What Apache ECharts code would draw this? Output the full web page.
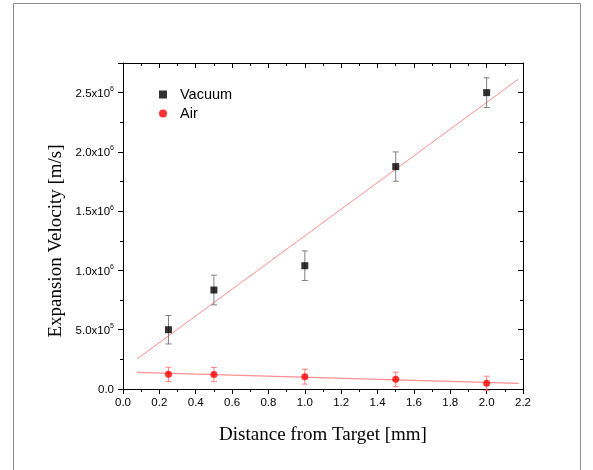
<!DOCTYPE html>
<html>
<head>
<meta charset="utf-8">
<script src="https://cdn.jsdelivr.net/npm/echarts@6/dist/echarts.min.js"></script>
<style>
  html, body { margin: 0; padding: 0; background: #fff; }
  #chart { width: 593px; height: 470px; }
</style>
</head>
<body>
<div id="chart"></div>
<script>
// Expansion velocity of the plume versus distance from the target
const distance = [0.25, 0.5, 1.0, 1.5, 2.0];            // mm
const vacuumVelocity = [5.0e5, 8.35e5, 1.04e6, 1.876e6, 2.5e6]; // m/s
const vacuumError = [1.2e5, 1.25e5, 1.25e5, 1.24e5, 1.25e5];
const airVelocity = [1.24e5, 1.22e5, 1.04e5, 8.2e4, 4.8e4];
const airError = [6.0e4, 6.0e4, 6.3e4, 6.0e4, 6.0e4];

// Linear fit end points
const vacuumFitX = [0.077, 2.174];
const vacuumFitY = [2.53e5, 2.613e6];
const airFitX = [0.077, 2.176];
const airFitY = [1.41e5, 4.8e4];

const xTicks = { min: 0, max: 2.2, step: 0.2 };
const yTicks = { min: 0, max: 2.75e6, step: 5e5 };

const SANS = '"Liberation Sans", Arial, sans-serif';
const SERIF = '"Liberation Serif", "Times New Roman", serif';

function pairs(xs, ys) { return xs.map((x, i) => [x, ys[i]]); }
function triples(xs, ys, es) { return xs.map((x, i) => [x, ys[i], es[i]]); }

function errorBars(color) {
  return function (params, api) {
    const x = api.value(0), y = api.value(1), e = api.value(2);
    const hi = api.coord([x, y + e]);
    const lo = api.coord([x, y - e]);
    const half = 3;
    const style = { stroke: color, lineWidth: 1 };
    return {
      type: 'group',
      children: [
        { type: 'line', shape: { x1: hi[0], y1: hi[1], x2: lo[0], y2: lo[1] }, style },
        { type: 'line', shape: { x1: hi[0] - half, y1: hi[1], x2: hi[0] + half, y2: hi[1] }, style },
        { type: 'line', shape: { x1: lo[0] - half, y1: lo[1], x2: lo[0] + half, y2: lo[1] }, style }
      ]
    };
  };
}

function yLabel(v) {
  if (v === 0) return '{m|0.0}';
  const e = Math.floor(Math.log10(v) + 1e-9);
  const m = (v / Math.pow(10, e)).toFixed(1);
  return '{m|' + m + 'x10}{e|' + e + '}';
}

const axisLine = { show: true, onZero: false, lineStyle: { color: '#000', width: 1 } };

const chart = echarts.init(document.getElementById('chart'));
chart.setOption({
  animation: false,
  backgroundColor: '#fff',
  grid: { left: 123, right: 70, top: 63, bottom: 81, containLabel: false },
  legend: {
    orient: 'vertical',
    left: 154,
    top: 82,
    itemWidth: 8,
    itemHeight: 8,
    itemGap: 4,
    data: [
      { name: 'Vacuum', icon: 'rect' },
      { name: 'Air', icon: 'circle' }
    ],
    textStyle: { fontFamily: SANS, fontSize: 14.5, color: '#000', padding: [0, 0, 0, 8] }
  },
  xAxis: [
    {
      type: 'value', position: 'bottom',
      min: xTicks.min, max: xTicks.max, interval: xTicks.step,
      axisLine,
      axisTick: { show: true, inside: false, length: 5, lineStyle: { color: '#000' } },
      minorTick: { show: true, splitNumber: 2, length: 3, lineStyle: { color: '#000' } },
      splitLine: { show: false },
      axisLabel: { color: '#000', fontFamily: SANS, fontSize: 11.5, margin: 8,
        formatter: v => v.toFixed(1) }
    },
    {
      type: 'value', position: 'top',
      min: xTicks.min, max: xTicks.max, interval: xTicks.step,
      axisLine,
      axisTick: { show: true, inside: true, length: 5, lineStyle: { color: '#000' } },
      minorTick: { show: true, splitNumber: 2, length: 3, lineStyle: { color: '#000' } },
      splitLine: { show: false },
      axisLabel: { show: false }
    }
  ],
  yAxis: [
    {
      type: 'value', position: 'left',
      min: yTicks.min, max: yTicks.max, interval: yTicks.step,
      axisLine,
      axisTick: { show: true, inside: false, length: 5, lineStyle: { color: '#000' } },
      minorTick: { show: true, splitNumber: 2, length: 3, lineStyle: { color: '#000' } },
      splitLine: { show: false },
      axisLabel: {
        color: '#000', margin: 9, showMaxLabel: false,
        formatter: yLabel,
        rich: {
          m: { fontFamily: SANS, fontSize: 11.5, color: '#000', verticalAlign: 'bottom', lineHeight: 14 },
          e: { fontFamily: SANS, fontSize: 7, color: '#000', verticalAlign: 'top', lineHeight: 14, padding: [0, 0, 6, 0] }
        }
      }
    },
    {
      type: 'value', position: 'right',
      min: yTicks.min, max: yTicks.max, interval: yTicks.step,
      axisLine,
      axisTick: { show: true, inside: true, length: 5, lineStyle: { color: '#000' } },
      minorTick: { show: true, splitNumber: 2, length: 3, lineStyle: { color: '#000' } },
      splitLine: { show: false },
      axisLabel: { show: false }
    }
  ],
  graphic: [
    {
      type: 'rect', silent: true,
      shape: { x: 13.5, y: 3.5, width: 567, height: 520 },
      style: { fill: 'none', stroke: '#8c8c8c', lineWidth: 1 }
    },
    {
      type: 'text', x: 323, y: 435,
      style: { text: 'Distance from Target [mm]', fontFamily: SERIF, fontSize: 19,
        fill: '#000', textAlign: 'center', textVerticalAlign: 'middle' }
    },
    {
      type: 'text', x: 56, y: 241, rotation: Math.PI / 2,
      style: { text: 'Expansion Velocity [m/s]', fontFamily: SERIF, fontSize: 19,
        fill: '#000', textAlign: 'center', textVerticalAlign: 'middle' }
    }
  ],
  series: [
    {
      name: 'Vacuum fit', type: 'line', symbol: 'none', silent: true, z: 1,
      data: pairs(vacuumFitX, vacuumFitY),
      lineStyle: { color: '#ff9090', width: 1 }
    },
    {
      name: 'Air fit', type: 'line', symbol: 'none', silent: true, z: 1,
      data: pairs(airFitX, airFitY),
      lineStyle: { color: '#ff9090', width: 1.2 }
    },
    {
      name: 'Vacuum error', type: 'custom', z: 2, silent: true,
      renderItem: errorBars('#808080'),
      data: triples(distance, vacuumVelocity, vacuumError)
    },
    {
      name: 'Air error', type: 'custom', z: 2, silent: true,
      renderItem: errorBars('#ff8080'),
      data: triples(distance, airVelocity, airError)
    },
    {
      name: 'Vacuum', type: 'scatter', symbol: 'rect', symbolSize: 7, z: 3,
      itemStyle: { color: '#000' },
      data: pairs(distance, vacuumVelocity)
    },
    {
      name: 'Air', type: 'scatter', symbol: 'circle', symbolSize: 7, z: 3,
      itemStyle: { color: '#ff0000' },
      data: pairs(distance, airVelocity)
    }
  ]
});
</script>
</body>
</html>
